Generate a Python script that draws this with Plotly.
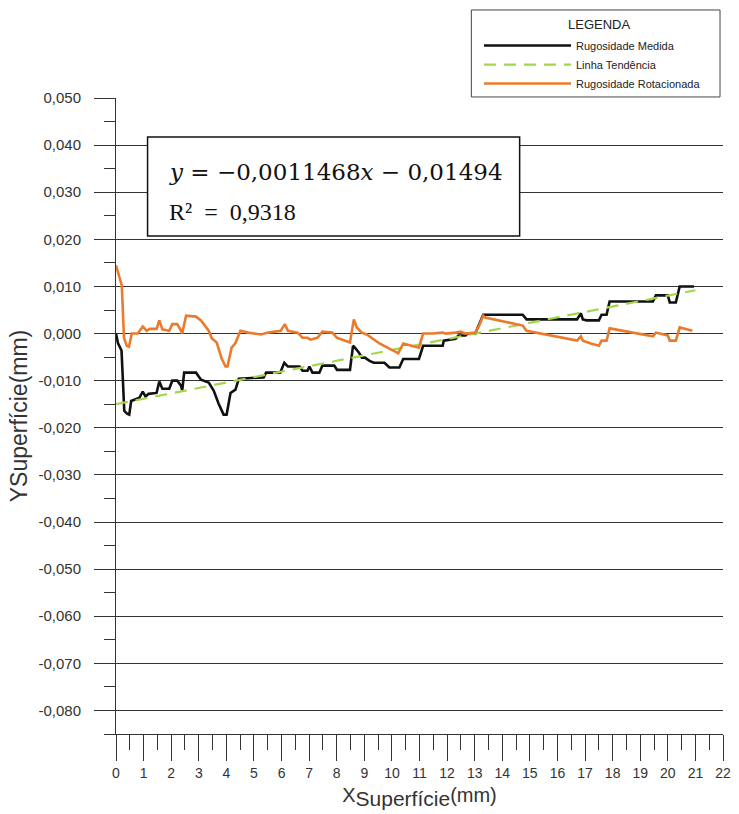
import plotly.graph_objects as go

# Measured surface roughness profile (mm)
medida_x = [0, 0.07, 0.2, 0.3, 0.4, 0.48, 0.55, 0.85, 0.97, 1.07, 1.18, 1.47, 1.57, 1.68,
            1.93, 2.04, 2.22, 2.36, 2.40, 2.47, 2.90, 3.08, 3.36, 3.54, 3.72, 3.90, 4.01,
            4.15, 4.33, 4.45, 5.35, 5.44, 5.95, 6.10, 6.23, 6.65, 6.76, 6.94, 7.01, 7.12,
            7.37, 7.48, 7.91, 8.01, 8.48, 8.59, 8.66, 8.80, 8.91, 9.02, 9.19, 9.34, 9.73,
            9.91, 10.27, 10.41, 10.98, 11.13, 11.84, 11.88, 12.31, 12.41, 12.67, 12.74,
            13.02, 13.31, 13.38, 14.74, 14.88, 16.71, 16.85, 16.92, 17.06, 17.50, 17.60,
            17.78, 17.89, 19.46, 19.57, 20.00, 20.07, 20.29, 20.43, 20.95]
medida_y = [0.0, -0.002, -0.0036, -0.0164, -0.017, -0.0172, -0.0143, -0.0136, -0.0123,
            -0.0134, -0.0128, -0.0126, -0.0102, -0.0117, -0.0117, -0.0100, -0.0100, -0.0111,
            -0.0121, -0.0083, -0.0083, -0.0098, -0.0104, -0.0121, -0.0149, -0.0172, -0.0172,
            -0.0126, -0.0119, -0.0096, -0.0093, -0.0083, -0.0083, -0.0062, -0.0070, -0.0070,
            -0.0079, -0.0079, -0.0070, -0.0083, -0.0083, -0.0068, -0.0068, -0.0077, -0.0077,
            -0.0026, -0.0030, -0.0040, -0.0051, -0.0051, -0.0058, -0.0062, -0.0062, -0.0072,
            -0.0072, -0.0054, -0.0054, -0.0026, -0.0026, -0.0015, -0.0011, -0.0004, -0.0004,
            0.0, 0.0, 0.0040, 0.0040, 0.0040, 0.0030, 0.0030, 0.0043, 0.0030, 0.0028, 0.0028,
            0.0040, 0.0040, 0.0068, 0.0068, 0.0081, 0.0081, 0.0066, 0.0066, 0.0100, 0.0100]

# Linear trend line
tendencia_x = [0, 21]
tendencia_y = [-0.0150, 0.0092]

# Profile after removing the trend
rotacionada_x = [0, 0.07, 0.21, 0.29, 0.39, 0.47, 0.57, 0.79, 0.97, 1.11, 1.22, 1.47, 1.57,
                 1.68, 1.93, 2.04, 2.22, 2.36, 2.40, 2.54, 2.90, 3.08, 3.26, 3.36, 3.47,
                 3.65, 3.83, 3.97, 4.04, 4.19, 4.33, 4.51, 4.79, 5.26, 5.51, 5.97, 6.12,
                 6.23, 6.58, 6.76, 6.94, 7.05, 7.30, 7.48, 7.84, 8.01, 8.48, 8.62, 8.73,
                 8.91, 9.09, 9.27, 9.55, 9.91, 10.23, 10.41, 10.77, 10.98, 11.13, 11.48,
                 11.84, 11.95, 12.31, 12.49, 12.67, 13.02, 13.13, 13.31, 13.38, 14.74,
                 14.88, 16.71, 16.85, 16.92, 17.21, 17.50, 17.60, 17.78, 17.89, 19.46,
                 19.57, 20.00, 20.07, 20.29, 20.43, 20.89]
rotacionada_y = [0.0145, 0.0130, 0.0102, -0.0009, -0.0026, -0.0028, 0.0, 0.0, 0.0015,
                 0.0006, 0.0010, 0.0010, 0.0028, 0.0009, 0.0006, 0.0020, 0.0020, 0.0006,
                 0.0, 0.0038, 0.0036, 0.0028, 0.0013, 0.0006, -0.0010, -0.0019, -0.0053,
                 -0.0070, -0.0070, -0.0030, -0.0020, 0.0006, 0.0002, -0.0002, 0.0002, 0.0006,
                 0.0020, 0.0006, 0.0002, -0.0009, -0.0009, -0.0013, -0.0009, 0.0004, 0.0002,
                 -0.0009, -0.0019, 0.0030, 0.0013, 0.0002, -0.0002, -0.0010, -0.0021, -0.0032,
                 -0.0042, -0.0021, -0.0026, -0.0030, 0.0, 0.0, 0.0002, 0.0, 0.0002, 0.0004,
                 0.0, 0.0002, 0.0013, 0.0038, 0.0034, 0.0017, 0.0006, -0.0015, -0.0006,
                 -0.0015, -0.0021, -0.0026, -0.0015, -0.0015, 0.0011, -0.0006, 0.0002,
                 -0.0004, -0.0015, -0.0015, 0.0013, 0.0006]

y_tick_vals = [0.05, 0.04, 0.03, 0.02, 0.01, 0.0, -0.01, -0.02, -0.03, -0.04, -0.05,
               -0.06, -0.07, -0.08]
y_tick_text = ["0,050", "0,040", "0,030", "0,020", "0,010", "0,000", "-0,010", "-0,020",
               "-0,030", "-0,040", "-0,050", "-0,060", "-0,070", "-0,080"]
x_tick_vals = list(range(0, 23))
x_tick_text = [str(v) for v in x_tick_vals]

AXIS = "#333333"
FONT = "Liberation Sans, Arial, sans-serif"
SERIF = "DejaVu Serif, Liberation Serif, serif"

fig = go.Figure()
fig.add_trace(go.Scatter(x=medida_x, y=medida_y, mode="lines", name="Rugosidade Medida",
                         line=dict(color="#111111", width=2.6)))
fig.add_trace(go.Scatter(x=tendencia_x, y=tendencia_y, mode="lines", name="Linha Tendência",
                         line=dict(color="#a3d64b", width=2.2, dash="12px,8px")))
fig.add_trace(go.Scatter(x=rotacionada_x, y=rotacionada_y, mode="lines",
                         name="Rugosidade Rotacionada",
                         line=dict(color="#ec7a2c", width=2.6)))

fig.update_layout(
    width=739, height=814,
    margin=dict(l=116, r=8, t=98, b=80),
    paper_bgcolor="white", plot_bgcolor="white",
    font=dict(family=FONT, color=AXIS),
    showlegend=True,
    legend=dict(
        x=0.598, y=1.1053, xanchor="left", yanchor="top",
        bgcolor="rgba(0,0,0,0)", borderwidth=0,
        font=dict(size=11, color="#222222"),
        itemwidth=87, tracegroupgap=0,
    ),
    xaxis=dict(
        range=[0, 22], showgrid=False, zeroline=False,
        showline=True, linecolor=AXIS, linewidth=1,
        tickmode="array", tickvals=x_tick_vals, ticktext=x_tick_text,
        ticks="outside", ticklen=26, tickcolor=AXIS, tickwidth=1,
        tickfont=dict(size=14, color="#333333"),
        minor=dict(tickmode="linear", tick0=0, dtick=0.5, ticks="outside",
                   ticklen=15, tickcolor=AXIS, tickwidth=1, showgrid=False),
        title=dict(text="X<sub><span style='font-size:21px'>Superfície</span></sub>(mm)",
                   font=dict(size=20, color="#333333"), standoff=8),
    ),
    yaxis=dict(
        range=[-0.085, 0.05], zeroline=False,
        showgrid=True, gridcolor=AXIS, gridwidth=1,
        showline=True, linecolor=AXIS, linewidth=1,
        tickmode="array", tickvals=y_tick_vals, ticktext=y_tick_text,
        ticks="outside", ticklen=21, tickcolor=AXIS, tickwidth=1,
        ticklabelstandoff=10,
        tickfont=dict(size=15, color="#333333"),
        minor=dict(tickmode="linear", tick0=0, dtick=0.005, ticks="outside",
                   ticklen=11, tickcolor=AXIS, tickwidth=1, showgrid=False),
        title=dict(text="YSuperfície(mm)", font=dict(size=23, color="#333333"),
                   standoff=4),
    ),
)

# Legend frame and heading
fig.add_shape(type="rect", xref="paper", yref="paper",
              x0=0.5854, x1=0.9951, y0=1.0016, y1=1.1384,
              line=dict(color="#444444", width=1), fillcolor="rgba(0,0,0,0)", layer="above")
fig.add_annotation(xref="paper", yref="paper", x=0.796, y=1.1148,
                   xanchor="center", yanchor="middle", showarrow=False,
                   text="LEGENDA", font=dict(family=FONT, size=13, color="#222222"))

# Regression equation box
fig.add_shape(type="rect", xref="paper", yref="paper",
              x0=0.052, x1=0.665, y0=0.783, y1=0.9387,
              line=dict(color="#111111", width=1.5), fillcolor="white", layer="above")
fig.add_annotation(xref="paper", yref="paper", x=0.0846, y=0.8836,
                   xanchor="left", yanchor="middle", showarrow=False,
                   text="<i>y</i> = −0,0011468<i>x</i> − 0,01494",
                   font=dict(family=SERIF, size=23, color="#111111"))
fig.add_annotation(xref="paper", yref="paper", x=0.0846, y=0.8208,
                   xanchor="left", yanchor="middle", showarrow=False,
                   text="R²\u2002=\u20020,9318",
                   font=dict(family="Liberation Serif, Times New Roman, serif", size=24,
                             color="#111111"))

fig.write_html("out.html")
